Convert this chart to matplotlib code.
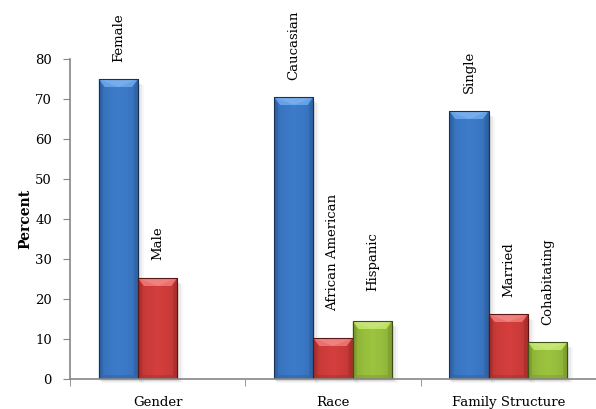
import matplotlib.pyplot as plt
import numpy as np
from matplotlib.patches import Polygon, Rectangle
from matplotlib.colors import to_rgb

plt.rcParams['font.family'] = ['DejaVu Serif']

groups = ["Gender", "Race", "Family Structure"]
# three bars per group, nan where a group has no third bar
blue_vals = [75, 70.5, 67]
red_vals = [25.25, 10.25, 16.25]
green_vals = [np.nan, 14.5, 9.25]
blue_labels = ["Female", "Caucasian", "Single"]
red_labels = ["Male", "African American", "Married"]
green_labels = ["", "Hispanic", "Cohabitating"]
# label gap above each bar, in points
blue_gaps = [12, 12.5, 13]
red_gaps = [13, 19.5, 12]
green_gaps = [0, 21.5, 12.5]

# base, light, dark tones for the bevelled bars
palette = {
    "blue": ("#3d7ccb", "#64a2ea", "#2a5a98"),
    "red": ("#d43f3d", "#ec706e", "#9c2927"),
    "green": ("#9cc43f", "#bee166", "#72912a"),
}

fig = plt.figure(figsize=(5.96, 4.09), dpi=100)
ax = fig.add_axes([70 / 596, 30 / 409, 526 / 596, 320 / 409])

x = np.arange(len(groups))
w = 0.224
ax.set_xlim(-0.5, 2.5)
ax.set_ylim(0, 80)

px_x = 1 / 175.3   # one pixel in x data units
px_y = 80 / 320    # one pixel in y data units


def mix(c, t, k):
    a, b = np.array(to_rgb(c)), np.array(to_rgb(t))
    return tuple(a * (1 - k) + b * k)


def fancy(bars, key, labels, gaps):
    base, light, dark = palette[key]
    for b, lab, gap in zip(bars, labels, gaps):
        h = b.get_height()
        if not np.isfinite(h):
            continue
        x0, y0, bw = b.get_x(), b.get_y(), b.get_width()
        b.set_facecolor("none")
        b.set_edgecolor("none")
        top = y0 + h
        # soft shadow to the lower right
        for i, a in enumerate([0.08, 0.05, 0.03]):
            s = i + 1
            ax.add_patch(Rectangle((x0 + px_x * s, y0 - px_y * (s + 1)),
                                   bw + px_x * s, h - px_y * 2,
                                   facecolor="black", alpha=a, lw=0,
                                   zorder=1, clip_on=False))
        # horizontal gradient across the bar
        t = np.linspace(0, 1, 80)
        prof = np.clip(1 - np.abs(t - 0.5) * 2, 0, 1) ** 0.25
        cols = np.array([mix(dark, base, p) for p in prof])[None, :, :]
        ax.imshow(cols, extent=(x0, x0 + bw, y0, top), aspect="auto",
                  interpolation="bilinear", zorder=2)
        dx, dy = 6 * px_x, 8 * px_y
        ax.add_patch(Polygon([(x0, top), (x0 + bw, top), (x0 + bw - dx, top - dy),
                              (x0 + dx, top - dy)], closed=True,
                             facecolor=light, lw=0, zorder=3))
        ax.add_patch(Polygon([(x0, top), (x0 + bw, top), (x0 + bw / 2, top - dy)],
                             closed=True, facecolor=mix(light, "white", 0.25),
                             alpha=0.5, lw=0, zorder=3))
        sx = 4 * px_x
        for xs, xi in [(x0, x0 + sx), (x0 + bw, x0 + bw - sx)]:
            ax.add_patch(Polygon([(xs, top), (xi, top - dy), (xi, y0 + dy / 2), (xs, y0)],
                                 closed=True, facecolor=dark, alpha=0.45, lw=0, zorder=3))
        ax.add_patch(Polygon([(x0, y0), (x0 + sx, y0 + dy / 2), (x0 + bw - sx, y0 + dy / 2),
                              (x0 + bw, y0)], closed=True, facecolor=dark,
                             alpha=0.35, lw=0, zorder=3))
        ax.add_patch(Rectangle((x0, y0), bw, h, facecolor="none",
                               edgecolor=mix(dark, "black", 0.45), lw=0.8, zorder=4))
        if lab:
            ax.annotate(lab, (x0 + bw / 2, top), xytext=(0, gap),
                        textcoords="offset points", rotation=90, ha="center",
                        va="bottom", fontsize=9.5, zorder=5)


fancy(ax.bar(x - w, blue_vals, w, align="center"), "blue", blue_labels, blue_gaps)
fancy(ax.bar(x, red_vals, w, align="center"), "red", red_labels, red_gaps)
fancy(ax.bar(x + w, green_vals, w, align="center"), "green", green_labels, green_gaps)

ax.set_yticks(range(0, 81, 10))
ax.set_xticks(x)
ax.set_xticklabels(groups, fontsize=9.5)
ax.set_xticks([-0.5, 0.5, 1.5, 2.5], minor=True)
ax.tick_params(axis="x", which="major", length=0, pad=12)
ax.tick_params(axis="x", which="minor", length=5, color="#868686", direction="out")
ax.tick_params(axis="y", labelsize=9.5, length=5, color="#868686", pad=8)
for side in ["top", "right"]:
    ax.spines[side].set_visible(False)
for side in ["left", "bottom"]:
    ax.spines[side].set_color("#868686")
    ax.spines[side].set_linewidth(1.2)
    ax.spines[side].set_zorder(6)
ax.set_ylabel("Percent", fontweight="bold", fontsize=10, labelpad=2)

fig.savefig("out.png", dpi=100)
